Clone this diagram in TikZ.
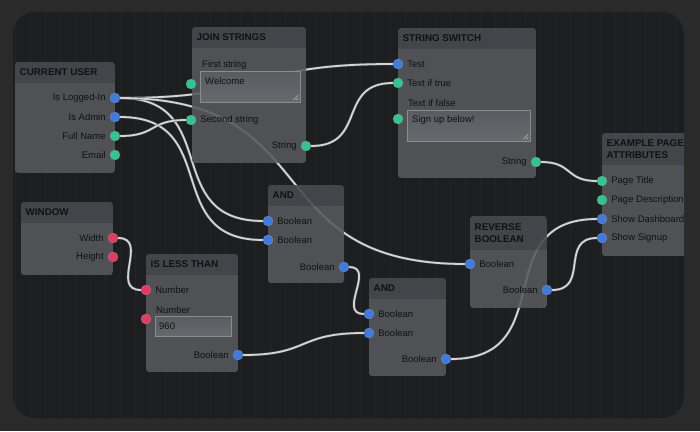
\documentclass[tikz,border=0pt]{standalone}
\usepackage{fontspec}
\setmainfont{Liberation Sans}
\usetikzlibrary{positioning}

\definecolor{outerbg}{HTML}{2A2A2B}
\definecolor{canvas}{HTML}{1D1E20}
\definecolor{gridc}{HTML}{232427}
\definecolor{bodyc}{HTML}{56595D}
\definecolor{headc}{HTML}{474A4E}
\definecolor{fieldt}{HTML}{585B5F}
\definecolor{fieldb}{HTML}{66696D}
\definecolor{txtc}{HTML}{111112}
\definecolor{wirec}{HTML}{D4D4D4}
\definecolor{pblue}{HTML}{3A7BE8}
\definecolor{pgreen}{HTML}{2BC98C}
\definecolor{pred}{HTML}{E9385E}

\pgfdeclarelayer{back}
\pgfdeclarelayer{wires}
\pgfdeclarelayer{blocks}
\pgfsetlayers{back,wires,blocks,main}

\tikzset{
    port/.style={circle, inner sep=0pt, minimum size=10, draw=black!45, line width=0.3},
    pb/.style={port, fill=pblue},
    pg/.style={port, fill=pgreen},
    pr/.style={port, fill=pred},
    lbl/.style={font=\fontsize{9.5}{11}\selectfont, text=txtc, inner sep=0pt},
    ttl/.style={font=\fontsize{9.8}{12.5}\selectfont\bfseries, text=txtc, anchor=west, align=left, inner sep=0pt},
    field/.style={rectangle, inner sep=0pt, draw=black!45, line width=0.4, top color=fieldt, bottom color=fieldb},
    grip/.style={draw=white!75!black, line width=0.5},
    wire/.style={draw=black!70, double=wirec, double distance=1.8, line width=0.45, looseness=1.4},
}

\begin{document}
\begin{tikzpicture}[x=1pt, y=-1pt]
    \useasboundingbox (0,0) rectangle (700,431);

    \begin{pgfonlayer}{back}
    \fill[outerbg] (0,0) rectangle (700,431);
    \fill[canvas, rounded corners=22] (13,12) rectangle (684,418);
    \begin{scope}
    \clip[rounded corners=22] (13,12) rectangle (684,418);
    \draw[gridc, line width=0.4, step=15] (13,12) grid (684,418);
    \end{scope}
    \end{pgfonlayer}

    \begin{scope}
    \clip[rounded corners=22] (13,12) rectangle (684,418);

    % current user
    \node[pb] (lu) at (115,98) {};
    \node[pb] (adm) at (115,117) {};
    \node[pg] (fn) at (115,136) {};
    \node[pg] (em) at (115,155) {};
    \node[lbl, left=4pt of lu] (lu-l) {Is Logged-In};
    \node[lbl, left=4pt of adm] (adm-l) {Is Admin};
    \node[lbl, left=4pt of fn] (fn-l) {Full Name};
    \node[lbl, left=4pt of em] (em-l) {Email};

    % join strings
    \node[lbl, anchor=west] (s1-l) at (202,65) {First string};
    \node[field, minimum width=100, minimum height=31] (f1) at (250,86.5) {};
    \node[lbl, anchor=west] (f1-t) at (205,81) {Welcome};
    \node[pg] (s1) at (191,84) {};
    \node[pg] (s2) at (191,120) {};
    \node[lbl, right=4pt of s2] (s2-l) {Second string};
    \node[pg] (js) at (306,146) {};
    \node[lbl, left=4pt of js] (js-l) {String};

    % string switch
    \node[pb] (tst) at (398,64) {};
    \node[lbl, right=4pt of tst] (tst-l) {Test};
    \node[pg] (tt) at (398,83) {};
    \node[lbl, right=4pt of tt] (tt-l) {Text if true};
    \node[lbl, anchor=west] (tf-l) at (408,103) {Text if false};
    \node[field, minimum width=123, minimum height=31] (f2) at (468.5,125.5) {};
    \node[lbl, anchor=west] (f2-t) at (412,120) {Sign up below!};
    \node[pg] (tf) at (398,119) {};
    \node[pg] (ss) at (536,162) {};
    \node[lbl, left=4pt of ss] (ss-l) {String};

    \foreach \c in {f1,f2}{
        \draw[grip] ([shift={(-7,-2)}]\c.south east) -- ([shift={(-2,-7)}]\c.south east);
        \draw[grip] ([shift={(-4,-2)}]\c.south east) -- ([shift={(-2,-4)}]\c.south east);
    }

    % example page attributes
    \node[pg] (pt) at (602,181) {};
    \node[pg] (pd) at (602,200) {};
    \node[pb] (sd) at (602,219) {};
    \node[pb] (su) at (602,238) {};
    \node[lbl, right=4pt of pt] (pt-l) {Page Title};
    \node[lbl, right=4pt of pd] (pd-l) {Page Description};
    \node[lbl, right=4pt of sd] (sd-l) {Show Dashboard};
    \node[lbl, right=4pt of su] (su-l) {Show Signup};

    % and (top)
    \node[pb] (a1) at (268,221) {};
    \node[pb] (a2) at (268,240) {};
    \node[pb] (ao) at (344,267) {};
    \node[lbl, right=4pt of a1] (a1-l) {Boolean};
    \node[lbl, right=4pt of a2] (a2-l) {Boolean};
    \node[lbl, left=4pt of ao] (ao-l) {Boolean};

    % window
    \node[pr] (wd) at (113,238) {};
    \node[pr] (ht) at (113,257) {};
    \node[lbl, left=4pt of wd] (wd-l) {Width};
    \node[lbl, left=4pt of ht] (ht-l) {Height};

    % is less than
    \node[pr] (n1) at (146,290) {};
    \node[lbl, right=4pt of n1] (n1-l) {Number};
    \node[lbl, anchor=west] (n2-l) at (156,310) {Number};
    \node[field, minimum width=76, minimum height=20] (f3) at (193,326) {};
    \node[lbl, anchor=west] (f3-t) at (159,326) {960};
    \node[pr] (n2) at (146,319) {};
    \node[pb] (lo) at (238,355) {};
    \node[lbl, left=4pt of lo] (lo-l) {Boolean};

    % and (bottom)
    \node[pb] (b1) at (369,314) {};
    \node[pb] (b2) at (369,333) {};
    \node[pb] (bo) at (446,359) {};
    \node[lbl, right=4pt of b1] (b1-l) {Boolean};
    \node[lbl, right=4pt of b2] (b2-l) {Boolean};
    \node[lbl, left=4pt of bo] (bo-l) {Boolean};

    % reverse boolean
    \node[pb] (ri) at (470,264) {};
    \node[pb] (ro) at (547,290) {};
    \node[lbl, right=4pt of ri] (ri-l) {Boolean};
    \node[lbl, left=4pt of ro] (ro-l) {Boolean};
    \end{scope}

    \begin{pgfonlayer}{wires}
    \draw[wire] (lu) to[out=0, in=180] (tst);
    \draw[wire] (lu) to[out=0, in=180] (a1);
    \draw[wire] (lu) to[out=0, in=180] (ri);
    \draw[wire] (adm) to[out=0, in=180] (a2);
    \draw[wire] (fn) to[out=0, in=180] (s2);
    \draw[wire] (js) to[out=0, in=180] (tt);
    \draw[wire] (ss) to[out=0, in=180] (pt);
    \draw[wire] (wd) to[out=0, in=180] (n1);
    \draw[wire] (lo) to[out=0, in=180] (b2);
    \draw[wire] (ao) to[out=0, in=180] (b1);
    \draw[wire] (bo) to[out=0, in=180] (sd);
    \draw[wire] (ro) to[out=0, in=180] (su);
    \end{pgfonlayer}

    \begin{pgfonlayer}{blocks}
    \begin{scope}
    \clip[rounded corners=22] (13,12) rectangle (684,418);
    \foreach \n/\x/\y/\w/\h/\hh/\t in {
        cu/15/62/100/111/21/{CURRENT USER},
        jn/192/27/114/136/21/{JOIN STRINGS},
        sw/398/28/138/150/21/{STRING SWITCH},
        ep/602/133/110/123/32/{EXAMPLE PAGE\\ATTRIBUTES},
        and1/268/185/76/98/21/{AND},
        win/21/202/92/73/21/{WINDOW},
        lt/146/254/92/118/21/{IS LESS THAN},
        and2/369/278/77/98/21/{AND},
        rb/470/216/77/92/34/{REVERSE\\BOOLEAN}}{
        \begin{scope}
        \clip[rounded corners=3] (\x,\y) rectangle +(\w,\h);
        \fill[headc, fill opacity=0.9] (\x,\y) rectangle +(\w,\hh);
        \fill[bodyc, fill opacity=0.88] (\x,\y+\hh) rectangle +(\w,\h-\hh);
        \end{scope}
        \node[ttl] (t-\n) at (\x+4.5,\y+\hh/2) {\t};
    }
    \end{scope}
    \end{pgfonlayer}
\end{tikzpicture}
\end{document}
